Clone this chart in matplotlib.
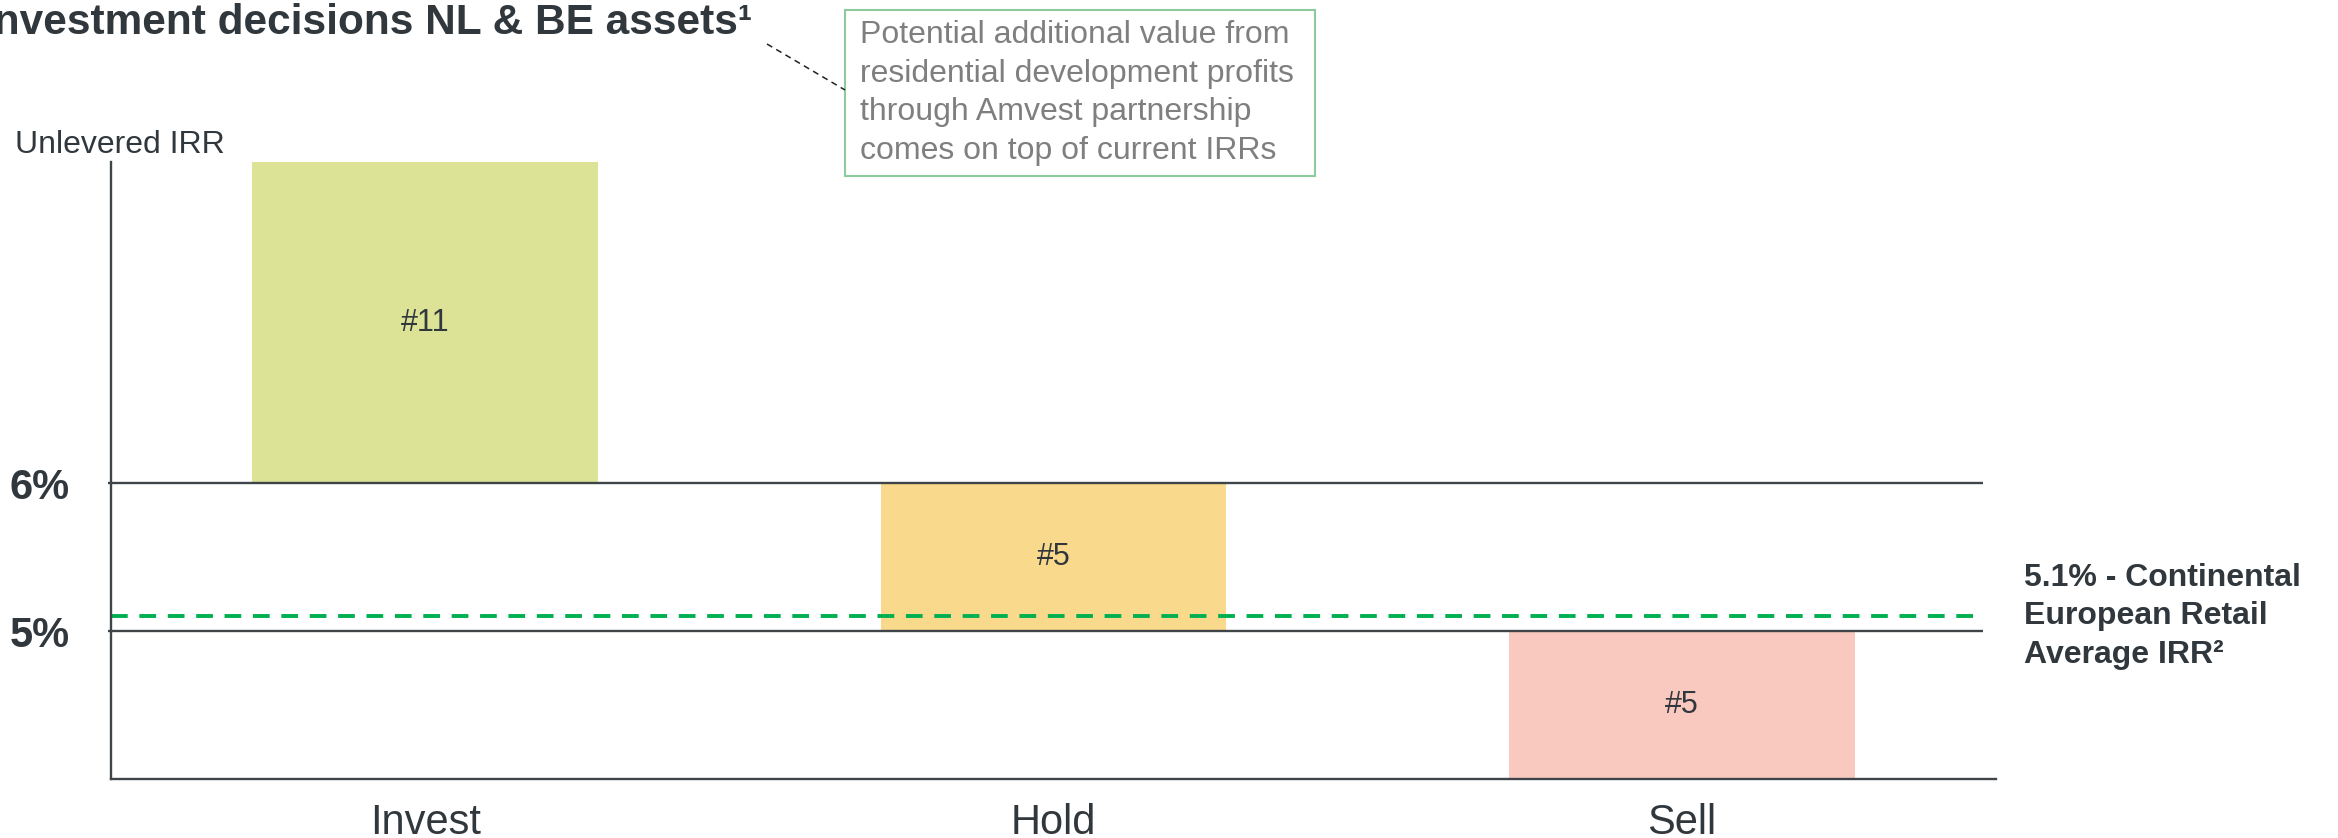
import matplotlib
matplotlib.use("Agg")
import matplotlib.pyplot as plt
from matplotlib.patches import FancyBboxPatch

plt.rcParams['font.family'] = ['Liberation Sans', 'DejaVu Sans']

# Data
categories = ["Invest", "Hold", "Sell"]
irr_low = [6.0, 5.0, 4.0]
irr_high = [8.17, 6.0, 5.0]
asset_counts = ["#11", "#5", "#5"]
bar_colors = ["#DCE296", "#F9D98C", "#F9C8BE"]
thresholds = [5, 6]
threshold_labels = ["5%", "6%"]
benchmark_irr = 5.1
benchmark_text = "5.1% - Continental\nEuropean Retail\nAverage IRR²"
title_text = "Investment decisions NL & BE assets¹"
note_text = ("Potential additional value from\nresidential development profits\n"
             "through Amvest partnership\ncomes on top of current IRRs")

W, H, DPI = 2338, 838, 100
DARK = "#31383D"

fig = plt.figure(figsize=(W / DPI, H / DPI), dpi=DPI)
fig.patch.set_facecolor("white")

# axes box in pixels: left 111, right 1996, top 162, bottom 779
L, R, T, B = 111, 1996, 162, 779
ax = fig.add_axes([L / W, 1 - B / H, (R - L) / W, (B - T) / H])
ax.set_xlim(-0.5, 2.5)
ax.set_ylim(4.0, 8.17)

x = range(len(categories))
heights = [h - l for h, l in zip(irr_high, irr_low)]
ax.bar(x, heights, bottom=irr_low, width=0.55, color=bar_colors,
       edgecolor="none", zorder=1)

for xi, lo, hi, lab in zip(x, irr_low, irr_high, asset_counts):
    ax.text(xi, (lo + hi) / 2, lab, ha="center", va="center",
            fontsize=22, color=DARK, zorder=3)

# threshold lines
grid_end = 2.48
for yv in thresholds:
    ax.plot([-0.505, grid_end], [yv, yv], color="#3F4448", lw=1.7,
            solid_capstyle="butt", zorder=2, clip_on=False)

# benchmark line
ax.plot([-0.5, grid_end], [benchmark_irr, benchmark_irr], color="#00B050",
        lw=2.8, dashes=(4.3, 3.0), zorder=2)

for sp in ["top", "right"]:
    ax.spines[sp].set_visible(False)
for sp in ["left", "bottom"]:
    ax.spines[sp].set_color("#3F4448")
    ax.spines[sp].set_linewidth(1.7)

ax.set_yticks(thresholds)
ax.set_yticklabels(threshold_labels, fontsize=30, fontweight="bold", color=DARK)
ax.tick_params(axis="y", length=0, pad=30)
ax.set_xticks(list(x))
ax.set_xticklabels(categories, fontsize=30, color=DARK)
ax.tick_params(axis="x", length=0, pad=17)

# benchmark label
ax.text(2.545, benchmark_irr, benchmark_text, ha="left", va="center",
        fontsize=23, fontweight="bold", color=DARK, linespacing=1.36,
        clip_on=False)

# axis title
fig.text(15 / W, 1 - 153 / H, "Unlevered IRR", ha="left", va="baseline",
         fontsize=23, color=DARK)

# chart title (runs off the left edge)
fig.text(752 / W, 1 - 34 / H, title_text, ha="right", va="baseline",
         fontsize=30.5, fontweight="bold", color=DARK)

# note box
bx0, by0, bx1, by1 = 845, 10, 1315, 176
box = FancyBboxPatch((bx0 / W, 1 - by1 / H), (bx1 - bx0) / W, (by1 - by0) / H,
                     boxstyle="square,pad=0", transform=fig.transFigure,
                     facecolor="white", edgecolor="#8DCB9C", lw=1.5)
fig.patches.append(box)
fig.text(860 / W, 1 - 93 / H, note_text, ha="left", va="center",
         fontsize=23, color="#7F7F7F", linespacing=1.37)

# connector from the title to the note
fig.add_artist(plt.Line2D([767 / W, 845 / W], [1 - 44 / H, 1 - 90 / H],
                          transform=fig.transFigure, color="#222222",
                          lw=1.1, dashes=(4, 3)))

fig.savefig("out.png", dpi=DPI, facecolor="white")
